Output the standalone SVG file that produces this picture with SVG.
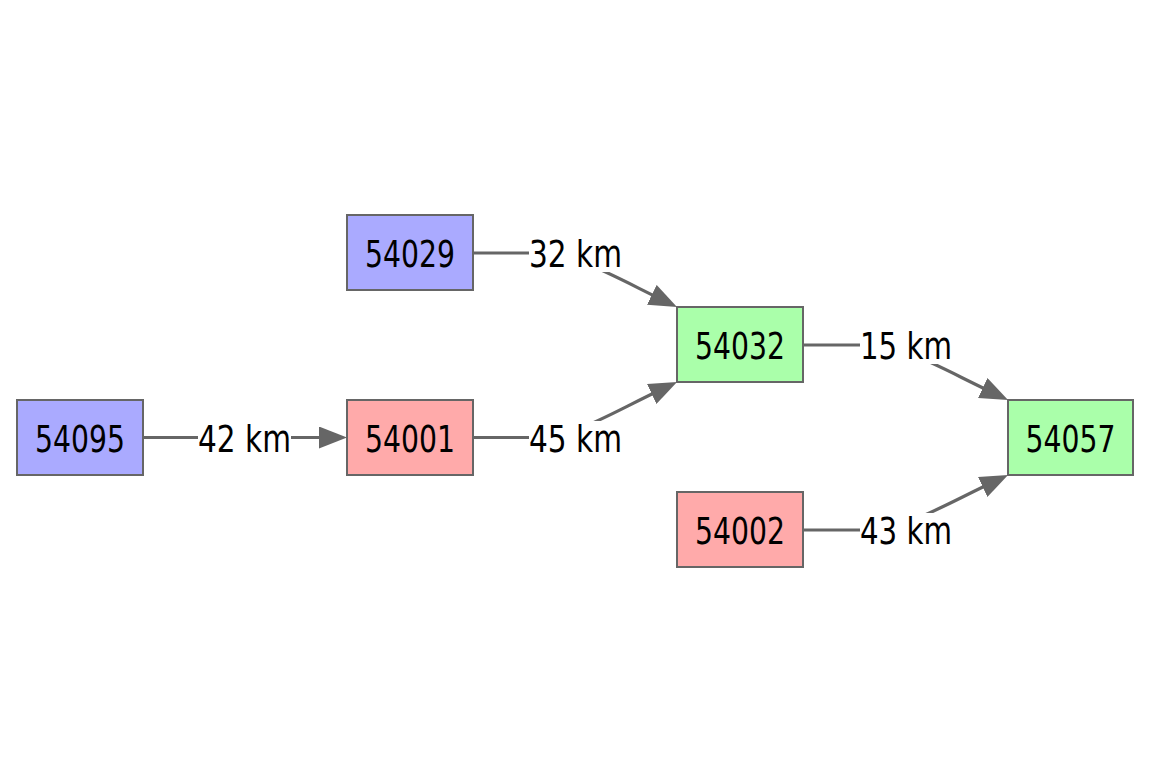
<svg xmlns="http://www.w3.org/2000/svg" width="1152" height="783" viewBox="0 0 1152 783">
  <style>
    .node rect { stroke: #666; stroke-width: 2; }
    .blue { fill: #aaaaff; }
    .red { fill: #ffaaaa; }
    .green { fill: #aaffaa; }
    text { font-family: "DejaVu Sans", "Liberation Sans", sans-serif; font-size: 38px; fill: #000; text-anchor: middle; }
    .edge { fill: none; stroke: #666; stroke-width: 3.2; }
    .lblbg { fill: #ffffff; }
  </style>
  <defs>
    <marker id="arrow" viewBox="0 0 14 11" markerWidth="28" markerHeight="22" markerUnits="userSpaceOnUse" refX="9" refY="5.5" orient="auto">
      <path d="M0,0 L14,5.5 L0,11 z" fill="#666"/>
    </marker>
  </defs>
  <rect width="1152" height="783" fill="#ffffff"/>
  <g id="edges">
    <path class="edge" d="M143,437.5 L337,437.5" marker-end="url(#arrow)"/>
    <path class="edge" d="M473,253 L535,253 C 575,253 605,272 668,302.7" marker-end="url(#arrow)"/>
    <path class="edge" d="M473,437.5 L535,437.5 C 575,437.5 605,416 668,386.3" marker-end="url(#arrow)"/>
    <path class="edge" d="M803,345 L865,345 C 905,345 936,366 999,395.7" marker-end="url(#arrow)"/>
    <path class="edge" d="M803,530 L865,530 C 905,530 936,509 999,479.3" marker-end="url(#arrow)"/>
    <g id="edge-labels">
      <rect class="lblbg" x="198" y="422" width="93" height="34"/>
      <text x="244.5" y="452" textLength="93" lengthAdjust="spacingAndGlyphs">42 km</text>
      <rect class="lblbg" x="529" y="237" width="93" height="35"/>
      <text x="575.5" y="267" textLength="93" lengthAdjust="spacingAndGlyphs">32 km</text>
      <rect class="lblbg" x="529" y="421" width="93" height="35"/>
      <text x="575.5" y="452" textLength="93" lengthAdjust="spacingAndGlyphs">45 km</text>
      <rect class="lblbg" x="860" y="329" width="92" height="35"/>
      <text x="906" y="359" textLength="92" lengthAdjust="spacingAndGlyphs">15 km</text>
      <rect class="lblbg" x="860" y="513" width="92" height="35"/>
      <text x="906" y="544" textLength="92" lengthAdjust="spacingAndGlyphs">43 km</text>
    </g>
  </g>
  <g id="n54029" class="node">
    <rect class="blue" x="347" y="215" width="126" height="75"/>
    <text x="410" y="267" textLength="90" lengthAdjust="spacingAndGlyphs">54029</text>
  </g>
  <g id="n54095" class="node">
    <rect class="blue" x="17" y="400" width="126" height="75"/>
    <text x="80" y="452" textLength="90" lengthAdjust="spacingAndGlyphs">54095</text>
  </g>
  <g id="n54001" class="node">
    <rect class="red" x="347" y="400" width="126" height="75"/>
    <text x="410" y="452" textLength="90" lengthAdjust="spacingAndGlyphs">54001</text>
  </g>
  <g id="n54032" class="node">
    <rect class="green" x="677" y="307" width="126" height="75"/>
    <text x="740" y="359" textLength="90" lengthAdjust="spacingAndGlyphs">54032</text>
  </g>
  <g id="n54002" class="node">
    <rect class="red" x="677" y="492" width="126" height="75"/>
    <text x="740" y="544" textLength="90" lengthAdjust="spacingAndGlyphs">54002</text>
  </g>
  <g id="n54057" class="node">
    <rect class="green" x="1008" y="400" width="125" height="75"/>
    <text x="1070.5" y="452" textLength="90" lengthAdjust="spacingAndGlyphs">54057</text>
  </g>
</svg>
